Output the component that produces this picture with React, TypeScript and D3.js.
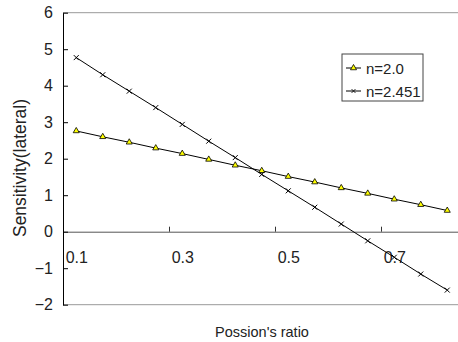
import React, { Component } from 'react';
import * as d3 from 'd3';

// Poisson's ratio categories (15 points, 0.1 .. 0.8)
const ratios = [0.1, 0.15, 0.2, 0.25, 0.3, 0.35, 0.4, 0.45, 0.5, 0.55, 0.6, 0.65, 0.7, 0.75, 0.8];
const sensN20 = [2.76, 2.6, 2.45, 2.29, 2.14, 1.98, 1.82, 1.67, 1.51, 1.36, 1.2, 1.05, 0.89, 0.74, 0.58];
const sensN2451 = [4.77, 4.3, 3.85, 3.4, 2.94, 2.48, 2.03, 1.57, 1.12, 0.67, 0.21, -0.25, -0.7, -1.16, -1.6];
const yTicks = [-2, -1, 0, 1, 2, 3, 4, 5, 6];
const xLabels = [0.1, 0.3, 0.5, 0.7];
const xTickMarks = [0.275, 0.475, 0.675];
const seriesNames = ['n=2.0', 'n=2.451'];

const FONT = '"Liberation Sans", Arial, sans-serif';

class App extends Component {
  svgRef = React.createRef<SVGSVGElement>();

  componentDidMount() {
    this.draw();
  }

  draw() {
    const svg = d3.select(this.svgRef.current);
    svg.selectAll('*').remove();

    const left = 63, right = 460.5, top = 12.7, bottom = 304.7;
    const x = d3.scaleLinear().domain([0.075, 0.825]).range([left, right]);
    const y = d3.scaleLinear().domain([-2, 6]).range([bottom, top]);

    // top and bottom gray lines
    [6, -2].forEach(v => {
      svg.append('line')
        .attr('x1', left).attr('x2', 458)
        .attr('y1', y(v)).attr('y2', y(v))
        .attr('stroke', '#999').attr('stroke-width', 1);
    });

    // x axis along zero line, ticks pointing up
    const xAxis = svg.append('g')
      .attr('transform', `translate(0,${y(0)})`)
      .call(d3.axisTop(x).tickValues(xTickMarks).tickSize(5).tickSizeOuter(0).tickFormat(() => ''));
    xAxis.select('.domain').attr('stroke', '#555');
    xAxis.selectAll('.tick line').attr('stroke', '#333');

    // x tick labels, below the zero line
    const xLab = svg.append('g')
      .attr('transform', `translate(0,${y(0)})`)
      .call(d3.axisBottom(x).tickValues(xLabels).tickSize(0).tickPadding(20).tickFormat(d3.format('.1f')));
    xLab.select('.domain').remove();
    xLab.selectAll('text')
      .attr('font-family', FONT).attr('font-size', 16).attr('fill', '#222');

    // y axis, ticks inward
    const yAxis = svg.append('g')
      .attr('transform', `translate(${left},0)`)
      .call(d3.axisLeft(y).tickValues(yTicks).tickSize(-5).tickSizeOuter(0).tickPadding(10).tickFormat(d3.format('d')));
    yAxis.select('.domain').attr('stroke', '#000');
    yAxis.selectAll('.tick line').attr('stroke', '#000');
    yAxis.selectAll('text')
      .attr('font-family', FONT).attr('font-size', 16).attr('fill', '#222');

    // axis titles
    svg.append('text')
      .attr('x', 262).attr('y', 337)
      .attr('text-anchor', 'middle')
      .attr('font-family', FONT).attr('font-size', 14.5).attr('fill', '#222')
      .text("Possion's ratio");
    svg.append('text')
      .attr('transform', 'translate(26,168) rotate(-90)')
      .attr('text-anchor', 'middle')
      .attr('font-family', FONT).attr('font-size', 17.5).attr('fill', '#222')
      .text('Sensitivity(lateral)');

    const line = d3.line<number>()
      .x((d, i) => x(ratios[i]))
      .y(d => y(d));

    const triangle = d3.symbol().type(d3.symbolTriangle).size(16);
    const cross = 'M-2.5,-2.5L2.5,2.5M-2.5,2.5L2.5,-2.5';

    // series n=2.0
    svg.append('path').datum(sensN20)
      .attr('d', line).attr('fill', 'none').attr('stroke', '#000').attr('stroke-width', 1);
    svg.selectAll('.tri').data(sensN20).enter().append('path')
      .attr('class', 'tri')
      .attr('d', triangle())
      .attr('transform', (d, i) => `translate(${x(ratios[i])},${y(d)})`)
      .attr('fill', '#ffff00').attr('stroke', '#000').attr('stroke-width', 0.8);

    // series n=2.451
    svg.append('path').datum(sensN2451)
      .attr('d', line).attr('fill', 'none').attr('stroke', '#000').attr('stroke-width', 1);
    svg.selectAll('.crs').data(sensN2451).enter().append('path')
      .attr('class', 'crs')
      .attr('d', cross)
      .attr('transform', (d, i) => `translate(${x(ratios[i])},${y(d)})`)
      .attr('fill', 'none').attr('stroke', '#000').attr('stroke-width', 1);

    // legend
    const lg = svg.append('g').attr('transform', 'translate(342,54)');
    lg.append('rect')
      .attr('width', 81).attr('height', 47)
      .attr('fill', '#fff').attr('stroke', '#444').attr('stroke-width', 1);
    seriesNames.forEach((name, i) => {
      const cy = 14 + i * 23;
      lg.append('line')
        .attr('x1', 4).attr('x2', 19).attr('y1', cy).attr('y2', cy)
        .attr('stroke', '#000').attr('stroke-width', 1);
      if (i === 0) {
        lg.append('path').attr('d', triangle())
          .attr('transform', `translate(11.5,${cy})`)
          .attr('fill', '#ffff00').attr('stroke', '#000').attr('stroke-width', 0.8);
      } else {
        lg.append('path').attr('d', cross)
          .attr('transform', `translate(11.5,${cy}) scale(0.8)`)
          .attr('fill', 'none').attr('stroke', '#000').attr('stroke-width', 1);
      }
      lg.append('text')
        .attr('x', 24).attr('y', cy + 5.5)
        .attr('font-family', FONT).attr('font-size', 15).attr('fill', '#222')
        .text(name);
    });
  }

  render() {
    return (
      <svg ref={this.svgRef} width="458" height="342"
        style={{ position: 'absolute', left: 0, top: 0, background: '#fff' }}></svg>
    );
  }
}

export default App;
